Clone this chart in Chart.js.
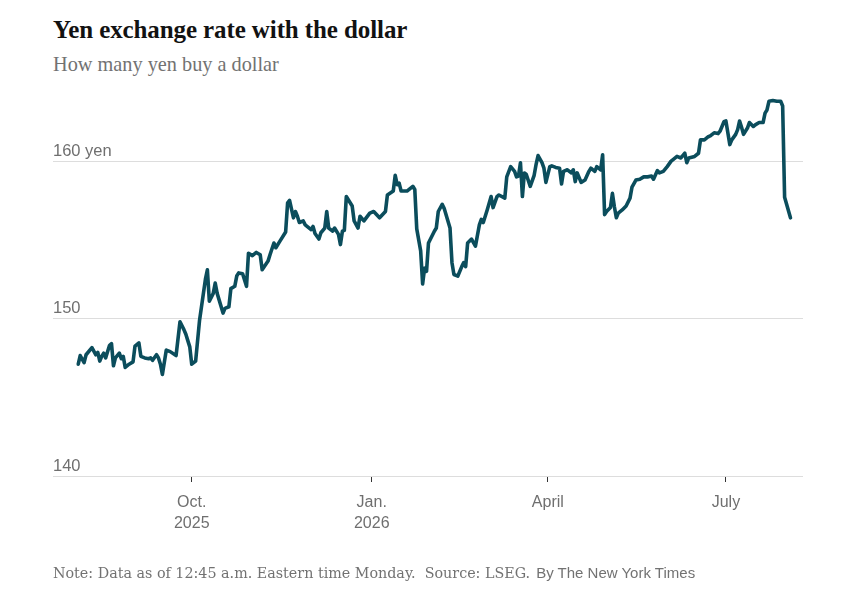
<!DOCTYPE html>
<html>
<head>
<meta charset="utf-8">
<script src="https://cdn.jsdelivr.net/npm/chart.js@4.4.1/dist/chart.umd.min.js"></script>
<style>
  html, body { margin: 0; padding: 0; background: #fff; }
  body { width: 863px; height: 591px; position: relative; overflow: hidden; }
  .title { position: absolute; left: 53px; top: 17px; font: bold 25px/25px "Liberation Serif", serif; color: #121212; white-space: nowrap; letter-spacing: -0.1px; }
  .subtitle { position: absolute; left: 53px; top: 54px; font: 20.3px/20px "Liberation Serif", serif; color: #727272; white-space: nowrap; }
  .note { position: absolute; left: 53px; top: 564px; font: 14.3px/15px "DejaVu Serif", serif; color: #727272; white-space: nowrap; }
  .note .credit { font: 15px "Liberation Sans", sans-serif; color: #727272; margin-left: 6px; }
  #wrap { position: absolute; left: 0; top: 0; width: 863px; height: 591px; }
</style>
</head>
<body>
<div class="title">Yen exchange rate with the dollar</div>
<div class="subtitle">How many yen buy a dollar</div>
<div id="wrap"><canvas id="chart"></canvas></div>
<div class="note">Note: Data as of 12:45 a.m. Eastern time Monday.&nbsp; Source: LSEG.<span class="credit">By The New York Times</span></div>

<script>
// daily yen per dollar
const dates = [
  '2025-08-04','2025-08-05','2025-08-07','2025-08-08','2025-08-11','2025-08-13','2025-08-14','2025-08-15',
  '2025-08-16','2025-08-17','2025-08-18','2025-08-20','2025-08-21','2025-08-22','2025-08-23','2025-08-25',
  '2025-08-26','2025-08-27','2025-08-28','2025-08-30','2025-09-01','2025-09-02','2025-09-04','2025-09-05',
  '2025-09-07','2025-09-09','2025-09-10','2025-09-11','2025-09-13','2025-09-14','2025-09-15','2025-09-16',
  '2025-09-18','2025-09-20','2025-09-23','2025-09-25','2025-09-27','2025-09-28','2025-09-29','2025-09-30',
  '2025-10-01','2025-10-03','2025-10-05','2025-10-08','2025-10-09','2025-10-10','2025-10-12','2025-10-13',
  '2025-10-14','2025-10-17','2025-10-18','2025-10-20','2025-10-21','2025-10-23','2025-10-24','2025-10-25',
  '2025-10-27','2025-10-29','2025-10-30','2025-11-01','2025-11-03','2025-11-05','2025-11-06','2025-11-09',
  '2025-11-10','2025-11-12','2025-11-13','2025-11-15','2025-11-18','2025-11-19','2025-11-20','2025-11-22',
  '2025-11-23','2025-11-24','2025-11-25','2025-11-27','2025-11-28','2025-12-01','2025-12-02','2025-12-03',
  '2025-12-05','2025-12-06','2025-12-08','2025-12-09','2025-12-10','2025-12-12','2025-12-13','2025-12-15',
  '2025-12-16','2025-12-17','2025-12-18','2025-12-19','2025-12-22','2025-12-23','2025-12-25','2025-12-26',
  '2025-12-28','2025-12-31','2026-01-02','2026-01-05','2026-01-08','2026-01-09','2026-01-12','2026-01-13',
  '2026-01-14','2026-01-15','2026-01-16','2026-01-19','2026-01-22','2026-01-23','2026-01-24','2026-01-26',
  '2026-01-27','2026-01-28','2026-01-29','2026-01-30','2026-02-02','2026-02-03','2026-02-04','2026-02-06',
  '2026-02-07','2026-02-10','2026-02-11','2026-02-12','2026-02-14','2026-02-16','2026-02-17','2026-02-18',
  '2026-02-19','2026-02-21','2026-02-23','2026-02-25','2026-02-26','2026-02-27','2026-03-01','2026-03-03',
  '2026-03-04','2026-03-06','2026-03-07','2026-03-10','2026-03-11','2026-03-13','2026-03-15','2026-03-16',
  '2026-03-17','2026-03-18','2026-03-19','2026-03-20','2026-03-21','2026-03-23','2026-03-25','2026-03-26',
  '2026-03-27','2026-03-29','2026-03-30','2026-03-31','2026-04-02','2026-04-03','2026-04-05','2026-04-07',
  '2026-04-08','2026-04-09','2026-04-11','2026-04-13','2026-04-14','2026-04-15','2026-04-16','2026-04-18',
  '2026-04-20','2026-04-22','2026-04-23','2026-04-25','2026-04-26','2026-04-28','2026-04-29','2026-04-30',
  '2026-05-01','2026-05-03','2026-05-04','2026-05-05','2026-05-06','2026-05-07','2026-05-09','2026-05-11',
  '2026-05-13','2026-05-14','2026-05-16','2026-05-18','2026-05-20','2026-05-22','2026-05-24','2026-05-25',
  '2026-05-27','2026-05-28','2026-05-30','2026-06-01','2026-06-03','2026-06-04','2026-06-06','2026-06-08',
  '2026-06-10','2026-06-11','2026-06-12','2026-06-15','2026-06-17','2026-06-18','2026-06-20','2026-06-22',
  '2026-06-23','2026-06-25','2026-06-27','2026-06-28','2026-06-30','2026-07-01','2026-07-03','2026-07-04',
  '2026-07-06','2026-07-07','2026-07-08','2026-07-09','2026-07-10','2026-07-12','2026-07-13','2026-07-15',
  '2026-07-16','2026-07-18','2026-07-20','2026-07-21','2026-07-22','2026-07-23','2026-07-25','2026-07-27',
  '2026-07-29','2026-07-30','2026-07-31','2026-08-03'
];
const rates = [
  147.1, 147.65, 147.2, 147.7, 148.15, 147.7, 147.85, 147.3,
  147.6, 147.8, 147.5, 148.3, 148.4, 147.0, 147.5, 147.8,
  147.45, 147.6, 146.9, 147.1, 147.25, 148.25, 148.45, 147.6,
  147.5, 147.45, 147.5, 147.35, 147.7, 147.5, 147.1, 146.45,
  148.0, 147.9, 147.65, 149.8, 149.3, 149.0, 148.6, 148.2,
  147.1, 147.3, 149.9, 152.5, 153.1, 151.1, 151.6, 152.25,
  151.6, 150.35, 150.65, 150.75, 151.9, 152.05, 152.7, 152.9,
  152.85, 152.05, 154.15, 154.0, 154.2, 154.05, 153.1, 153.65,
  154.05, 154.8, 154.5, 154.9, 155.5, 157.35, 157.5, 156.4,
  156.8, 156.5, 156.1, 156.2, 155.95, 155.65, 155.85, 155.4,
  155.05, 155.45, 155.75, 156.8, 155.75, 155.55, 155.75, 155.35,
  154.7, 155.55, 155.6, 157.75, 157.15, 156.2, 155.75, 156.5,
  156.2, 156.7, 156.8, 156.4, 156.8, 157.85, 158.1, 159.1,
  158.5, 158.6, 158.1, 158.1, 158.4, 158.2, 155.7, 154.3,
  152.2, 153.2, 153.0, 154.8, 155.55, 155.75, 156.8, 157.25,
  157.0, 155.75, 153.55, 152.8, 152.7, 153.3, 153.55, 153.3,
  154.8, 155.05, 154.6, 155.95, 156.3, 156.1, 156.9, 157.75,
  157.05, 157.75, 157.85, 157.65, 159.0, 159.65, 159.35, 159.0,
  159.05, 159.9, 157.75, 159.25, 159.15, 158.4, 159.1, 159.8,
  160.35, 159.9, 159.55, 158.65, 159.65, 159.7, 159.6, 159.55,
  158.55, 159.35, 159.45, 159.25, 159.45, 158.7, 159.25, 158.65,
  158.8, 159.35, 159.55, 159.35, 159.65, 159.45, 160.4, 156.6,
  156.8, 157.05, 157.95, 157.1, 156.4, 156.7, 156.9, 157.15,
  157.65, 158.35, 158.8, 158.85, 159.0, 159.0, 159.05, 158.85,
  159.4, 159.25, 159.35, 159.65, 160.0, 160.1, 160.3, 160.2,
  160.5, 159.9, 160.2, 160.3, 160.5, 161.35, 161.35, 161.55,
  161.6, 161.8, 161.75, 161.9, 162.5, 162.55, 161.05, 161.35,
  161.7, 162.0, 162.55, 162.15, 161.7, 162.1, 162.45, 162.2,
  162.3, 162.45, 162.45, 163.05, 163.25, 163.8, 163.85, 163.8,
  163.8, 163.5, 157.7, 156.4
];

// axis ticks
const xTickDates = ['2025-10-01', '2026-01-01', '2026-04-01', '2026-07-01'];
const xTickLabels = [['Oct.', '2025'], ['Jan.', '2026'], ['April'], ['July']];
const yTickValues = [140, 150, 160];
const yTickLabels = ['140', '150', '160 yen'];

// dates -> day numbers so a linear scale can place them
function dayNum(s) {
  const p = s.split('-').map(Number);
  return Date.UTC(p[0], p[1] - 1, p[2]) / 86400000;
}

const xTicks = xTickDates.map(dayNum);
const oct1 = dayNum('2025-10-01');

const lineColor = '#0b4d5c';
const tickFont = { family: '"Liberation Sans", sans-serif', size: 16, lineHeight: 1.3 };

new Chart(document.getElementById('chart'), {
  type: 'line',
  data: {
    datasets: [{
      data: dates.map((d, i) => ({ x: dayNum(d), y: rates[i] })),
      borderColor: lineColor,
      borderWidth: 3.6,
      pointRadius: 0,
      tension: 0,
      borderJoinStyle: 'round',
      borderCapStyle: 'round'
    }]
  },
  options: {
    responsive: true,
    maintainAspectRatio: false,
    animation: false,
    layout: { padding: { left: 53, right: 60, top: 95, bottom: 55 } },
    plugins: { legend: { display: false }, tooltip: { enabled: false } },
    scales: {
      x: {
        type: 'linear',
        min: oct1 - 70.9,
        max: oct1 + 312.4,
        afterBuildTicks: scale => { scale.ticks = xTicks.map(v => ({ value: v })); },
        afterFit: scale => { scale.height = 60; },
        ticks: {
          autoSkip: false,
          maxRotation: 0,
          color: '#6f6f6f',
          font: tickFont,
          padding: 10,
          callback: (v, i) => xTickLabels[i]
        },
        grid: { drawOnChartArea: false, drawTicks: true, tickLength: 6, color: '#333', lineWidth: 1 },
        border: { display: false }
      },
      y: {
        min: 140,
        max: 164.2,
        afterBuildTicks: scale => { scale.ticks = yTickValues.map(v => ({ value: v })); },
        afterFit: scale => { scale.width = 0; },
        ticks: {
          mirror: true,
          padding: 0,
          labelOffset: -10,
          color: '#6f6f6f',
          font: { family: '"Liberation Sans", sans-serif', size: 16.5 },
          callback: (v, i) => yTickLabels[i]
        },
        grid: { color: '#dddddd', lineWidth: 1, drawTicks: false },
        border: { display: false }
      }
    }
  }
});
</script>
</body>
</html>
